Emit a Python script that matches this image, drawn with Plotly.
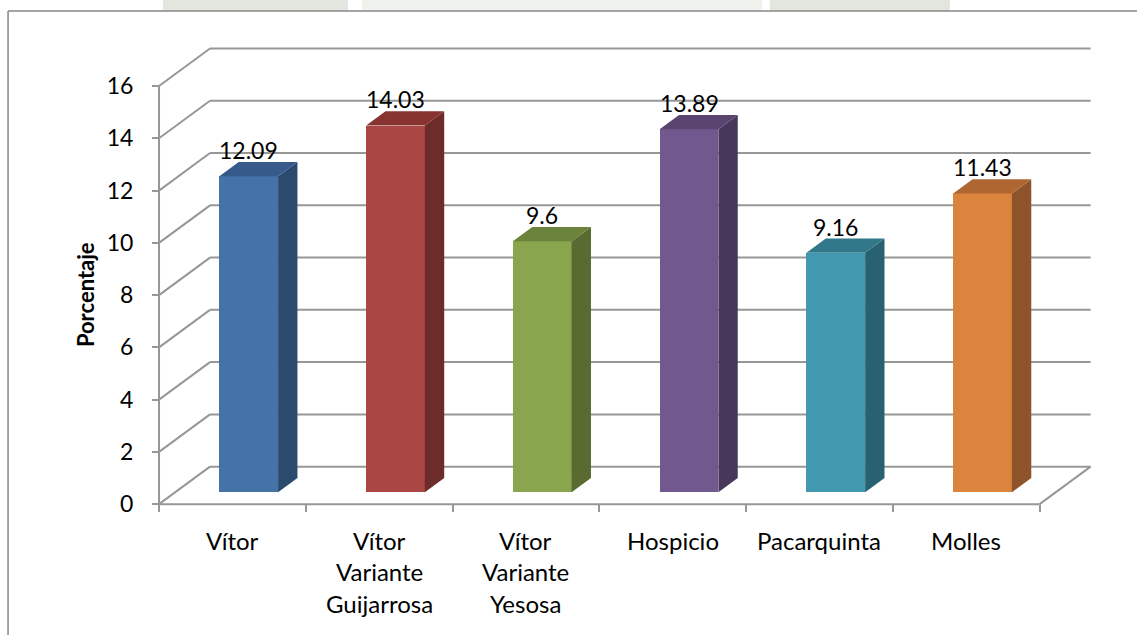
import plotly.graph_objects as go

# --- data -------------------------------------------------------------
categories = ["Vítor", "Vítor Variante Guijarrosa", "Vítor Variante Yesosa",
              "Hospicio", "Pacarquinta", "Molles"]
values = [12.09, 14.03, 9.6, 13.89, 9.16, 11.43]
y_ticks = [0, 2, 4, 6, 8, 10, 12, 14, 16]
y_title = "Porcentaje"

front_colors = ["#4572A7", "#AA4643", "#89A54E", "#71588F", "#4198AF", "#DB843D"]
side_colors = ["#2C4A6E", "#6D2B29", "#5A6B32", "#47385B", "#28616F", "#8C5428"]
top_colors = ["#365A8A", "#873431", "#6C833C", "#594570", "#31788A", "#AE6730"]

# --- oblique projection of the 3-D box (in axis units) ----------------
PX_X = 146.8          # pixels per category
PX_Y = 26.125         # pixels per unit of value
DX = 51 / PX_X        # depth offset along x
DY = 37.5 / PX_Y      # depth offset along y
D0 = 0.32             # depth of bar front face
DB = 0.38             # bar depth
BAR_W = 0.40
N = len(categories)

X_RANGE = [-0.15, 6.5]
Y_RANGE = [-0.3, 17.8]
W, H = 1137, 635
X0_PX, Y0_PX = 159, 504      # screen position of the front-left origin
m_l = X0_PX + X_RANGE[0] * PX_X
m_r = W - (X0_PX + X_RANGE[1] * PX_X)
m_b = H - (Y0_PX - Y_RANGE[0] * PX_Y)
m_t = Y0_PX - Y_RANGE[1] * PX_Y

FONT = "Lato, 'Open Sans', sans-serif"
FS_NUM = 23
FS_CAT = 24
GRID = "#979797"

fig = go.Figure()

# wall and floor lines (drawn beneath the bars)
shapes = []
def seg(x0, y0, x1, y1):
    shapes.append(dict(type="line", xref="x", yref="y", x0=x0, y0=y0, x1=x1, y1=y1,
                       line=dict(color=GRID, width=2), layer="below"))

for v in y_ticks:
    seg(0, v, DX, v + DY)
    seg(DX, v + DY, N + DX, v + DY)
seg(0, 0, 0, y_ticks[-1])
seg(0, 0, N, 0)
seg(N, 0, N + DX, DY)

# chart frame and the faint page background strip above it
pw = W - m_l - m_r
ph = H - m_t - m_b
def px_to_paper_x(px):
    return (px - m_l) / pw
def px_to_paper_y(py):
    return (H - m_b - py) / ph
for x0p, x1p, col in [(163, 348, "#e2e6df"), (362, 762, "#eff1ed"), (770, 950, "#e2e6df")]:
    shapes.append(dict(type="rect", xref="paper", yref="paper",
                       x0=px_to_paper_x(x0p), x1=px_to_paper_x(x1p),
                       y0=px_to_paper_y(11), y1=px_to_paper_y(-2),
                       fillcolor=col, line=dict(width=0), layer="below"))
shapes.append(dict(type="line", xref="paper", yref="paper",
                   x0=px_to_paper_x(8), y0=px_to_paper_y(11),
                   x1=px_to_paper_x(W + 5), y1=px_to_paper_y(11),
                   line=dict(color="#878787", width=1.5)))
shapes.append(dict(type="line", xref="paper", yref="paper",
                   x0=px_to_paper_x(8), y0=px_to_paper_y(11),
                   x1=px_to_paper_x(8), y1=px_to_paper_y(H + 5),
                   line=dict(color="#878787", width=1.5)))

# front faces of the bars
x_center = [i + 0.5 + D0 * DX for i in range(N)]
base = D0 * DY
fig.add_trace(go.Bar(
    x=x_center, y=values, base=base, width=BAR_W,
    marker=dict(color=front_colors, line=dict(width=0)),
    hoverinfo="skip", showlegend=False,
))

annotations = []
for i, v in enumerate(values):
    xl = x_center[i] - BAR_W / 2
    xr = x_center[i] + BAR_W / 2
    top = base + v
    ox, oy = DB * DX, DB * DY
    # right side face
    fig.add_trace(go.Scatter(
        x=[xr, xr + ox, xr + ox, xr, xr],
        y=[base, base + oy, top + oy, top, base],
        fill="toself", fillcolor=side_colors[i], mode="lines",
        line=dict(width=0, color=side_colors[i]),
        hoverinfo="skip", showlegend=False,
    ))
    # top face
    fig.add_trace(go.Scatter(
        x=[xl, xl + ox, xr + ox, xr, xl],
        y=[top, top + oy, top + oy, top, top],
        fill="toself", fillcolor=top_colors[i], mode="lines",
        line=dict(width=0, color=top_colors[i]),
        hoverinfo="skip", showlegend=False,
    ))
    # value label
    annotations.append(dict(
        x=x_center[i], y=top + oy, xref="x", yref="y", text=f"{v:g}",
        showarrow=False, yanchor="bottom", yshift=-4,
        font=dict(family=FONT, size=FS_NUM, color="#000000"),
    ))

# category labels, one word per line
for i, name in enumerate(categories):
    for k, word in enumerate(name.split(" ")):
        annotations.append(dict(
            x=i + 0.5, y=0, xref="x", yref="y", text=word, showarrow=False,
            yanchor="middle", yshift=-36 - 31.5 * k,
            font=dict(family=FONT, size=FS_CAT, color="#000000"),
        ))

# axis title
annotations.append(dict(
    x=0, y=y_ticks[-1] / 2, xref="x", yref="y", text=f"<b>{y_title}</b>",
    textangle=-90, showarrow=False, xshift=-74,
    font=dict(family=FONT, size=22, color="#000000"),
))

fig.update_layout(
    width=W, height=H,
    margin=dict(l=m_l, r=m_r, t=m_t, b=m_b, pad=0),
    paper_bgcolor="#ffffff", plot_bgcolor="rgba(0,0,0,0)",
    shapes=shapes, annotations=annotations,
    bargap=0, showlegend=False,
    xaxis=dict(
        range=X_RANGE, showgrid=False, zeroline=False, showline=False,
        tickvals=list(range(N + 1)), showticklabels=False,
        ticks="outside", ticklen=7, tickwidth=2, tickcolor=GRID,
        anchor="free", position=(0 - Y_RANGE[0]) / (Y_RANGE[1] - Y_RANGE[0]),
        fixedrange=True,
    ),
    yaxis=dict(
        range=Y_RANGE, showgrid=False, zeroline=False, showline=False,
        tickvals=y_ticks, ticks="outside", ticklen=7, tickwidth=2, tickcolor=GRID,
        tickfont=dict(family=FONT, size=FS_NUM, color="#000000"),
        ticklabelstandoff=14,
        anchor="free", position=(0 - X_RANGE[0]) / (X_RANGE[1] - X_RANGE[0]),
        fixedrange=True,
    ),
)

fig.write_html("out.html")
